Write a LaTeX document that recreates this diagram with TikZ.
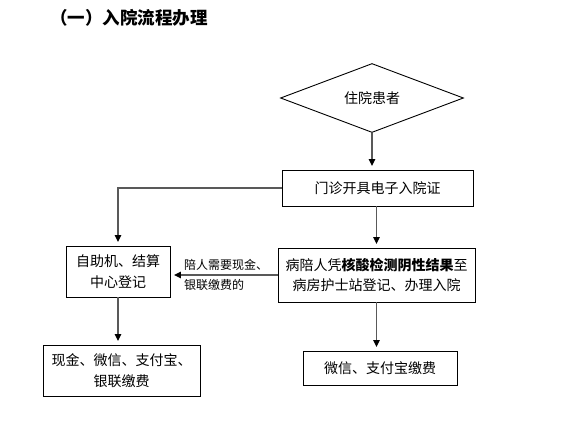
\documentclass[tikz,border=0pt]{standalone}
\usepackage{fontspec}
\setmainfont{Noto Sans CJK SC}
\usetikzlibrary{shapes.geometric,arrows.meta}
\tikzset{
  box/.style={draw=black, line width=0.9pt, inner sep=0pt, align=center,
    font=\fontsize{14}{20.5}\selectfont},
  arr/.style={draw=black!65, line width=1.3pt,
    -{Triangle[width=6.5pt,length=7pt,color=black]}, shorten >=3.5pt},
  plain/.style={draw=black!65, line width=1.3pt},
}
\begin{document}
\begin{tikzpicture}[x=1pt,y=-1pt]
\useasboundingbox (0,0) rectangle (565,431);
\node[anchor=west, font=\fontsize{17.5}{20}\selectfont\bfseries, inner sep=0pt] (title) at (50,18) {（一）入院流程办理};
\node[draw=black, line width=0.9pt, diamond, minimum width=183pt, minimum height=62pt, inner sep=0pt,
  font=\fontsize{14}{16}\selectfont] (dia) at (372,98) {住院患者};
\node[box, minimum width=191pt, minimum height=36pt] (b1) at (377.5,188) {门诊开具电子入院证};
\node[box, minimum width=104pt, minimum height=51pt] (b2) at (118,271.5) {自助机、结算\\中心登记};
\node[box, minimum width=197pt, minimum height=54pt] (b3) at (376.5,275) {病陪人凭\textbf{核酸检测阴性结果}至\\病房护士站登记、办理入院};
\node[box, minimum width=157pt, minimum height=51pt] (b4) at (121.5,370.5) {现金、微信、支付宝、\\银联缴费};
\node[box, minimum width=154pt, minimum height=34pt] (b5) at (380,368) {微信、支付宝缴费};
\node[anchor=west, align=left, inner sep=0pt, font=\fontsize{12}{20}\selectfont] (lab) at (184,274.5) {陪人需要现金、\\银联缴费的};
\draw[arr] (dia.south) -- (dia.south |- b1.north);
\draw[arr] (b1.west) -| (b2.north);
\draw[arr] (b3.north |- b1.south) -- (b3.north);
\draw[arr] (b3.west) -- (b3.west -| b2.east);
\draw[arr] (b2.south) -- (b2.south |- b4.north);
\draw[arr] (b3.south) -- (b3.south |- b5.north);
\end{tikzpicture}
\end{document}
